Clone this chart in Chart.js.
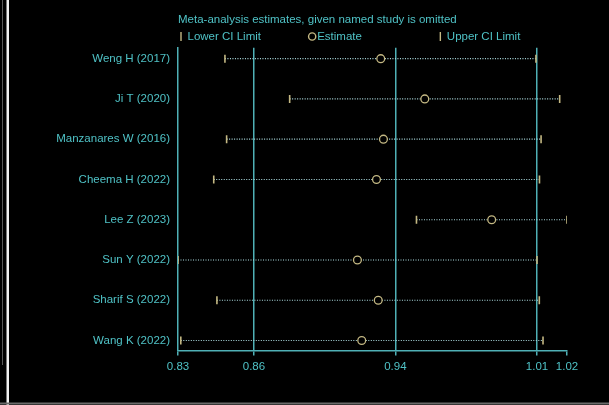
<!DOCTYPE html>
<html>
<head>
<meta charset="utf-8">
<script src="https://cdn.jsdelivr.net/npm/chart.js@4.4.1/dist/chart.umd.min.js"></script>
<style>
  html, body { margin: 0; padding: 0; background: #000; }
  #wrap { position: relative; width: 609px; height: 405px; }
</style>
</head>
<body>
<div id="wrap"><canvas id="c" width="609" height="405"></canvas></div>
<script>
// ---- data ----
const studies = ["Weng H (2017)", "Ji T (2020)", "Manzanares W (2016)", "Cheema H (2022)",
                 "Lee Z (2023)", "Sun Y (2022)", "Sharif S (2022)", "Wang K (2022)"];
const estimates = [0.9274, 0.9505, 0.9288, 0.9252, 0.9867, 0.9154, 0.9261, 0.9176];
const lowerCI   = [0.8501, 0.8814, 0.8509, 0.8448, 0.9461, 0.8281, 0.8463, 0.8294];
const upperCI   = [1.0114, 1.0249, 1.0143, 1.0134, 1.0291, 1.0120, 1.0133, 1.0154];
const overall   = [0.8640, 0.9350, 1.0120];   // overall lower CI, estimate, upper CI
const tickValues = [0.8281, 0.8640, 0.9350, 1.0120, 1.0291];
const tickLabels = ["0.83", "0.86", "0.94", "1.01", "1.02"];
const titleText = "Meta-analysis estimates, given named study is omitted";
const legendLabels = ["Lower CI Limit", "Estimate", "Upper CI Limit"];

// ---- styles ----
const TEAL = "#4fc2c6";
const GRID = "#4fb0b6";
const DOT = "#b0e0e4";
const KHAKI = "#c4b883";
const FONT = { family: "'Liberation Sans', Arial, sans-serif", size: 11.5, weight: "normal" };

const ciDatasets = studies.map((s, i) => ({
  label: s + " CI",
  data: [{ x: lowerCI[i], y: i }, { x: upperCI[i], y: i }],
  showLine: true,
  borderColor: DOT,
  borderWidth: 1.1,
  borderDash: [1, 1.5],
  pointRadius: 0,
  order: 3
}));

const capData = lowerCI.map((v, i) => ({ x: v, y: i }))
  .concat(upperCI.map((v, i) => ({ x: v, y: i })));

const frameAndLegend = {
  id: "frameAndLegend",
  beforeDraw(chart) {
    const ctx = chart.ctx;
    ctx.save();
    ctx.fillStyle = "#000";
    ctx.fillRect(0, 0, chart.width, chart.height);
    ctx.restore();
  },
  afterDraw(chart) {
    const ctx = chart.ctx;
    const a = chart.chartArea;
    ctx.save();
    // frame
    ctx.strokeStyle = "#5a5a5a";
    ctx.lineWidth = 1;
    ctx.beginPath(); ctx.moveTo(2.5, 0); ctx.lineTo(2.5, 365); ctx.stroke();
    ctx.strokeStyle = "#f2f2f2";
    ctx.lineWidth = 2.5;
    ctx.beginPath(); ctx.moveTo(7.75, 0); ctx.lineTo(7.75, chart.height); ctx.stroke();
    ctx.strokeStyle = "#6a6a6a";
    ctx.lineWidth = 2;
    ctx.beginPath(); ctx.moveTo(0, 403.5); ctx.lineTo(chart.width, 403.5); ctx.stroke();
    // legend
    const colW = (a.right - a.left) / 3;
    const y = 36.5;
    ctx.font = FONT.size + "px " + FONT.family;
    ctx.textBaseline = "middle";
    ctx.textAlign = "left";
    for (let i = 0; i < 3; i++) {
      const x0 = a.left + i * colW;
      ctx.strokeStyle = KHAKI;
      ctx.lineWidth = 1.4;
      ctx.beginPath();
      if (i === 1) {
        ctx.arc(x0 + 4.5, y, 3.6, 0, Math.PI * 2);
      } else {
        ctx.moveTo(x0 + 3, y - 4.5); ctx.lineTo(x0 + 3, y + 4.5);
      }
      ctx.stroke();
      ctx.fillStyle = TEAL;
      ctx.fillText(legendLabels[i], x0 + 9.5, y);
    }
    ctx.restore();
  }
};

new Chart(document.getElementById("c"), {
  type: "scatter",
  data: {
    datasets: ciDatasets.concat([
      {
        label: "CI limits",
        data: capData,
        pointStyle: "line",
        rotation: 90,
        pointRadius: 4,
        borderColor: KHAKI,
        borderWidth: 1.6,
        order: 2
      },
      {
        label: "Estimate",
        data: estimates.map((v, i) => ({ x: v, y: i })),
        pointStyle: "circle",
        pointRadius: 3.9,
        borderColor: KHAKI,
        backgroundColor: "#000",
        borderWidth: 1.3,
        order: 1
      }
    ])
  },
  options: {
    responsive: false,
    animation: false,
    events: [],
    layout: { padding: { left: 0, right: 42, top: 0, bottom: 0 } },
    plugins: {
      legend: { display: false },
      tooltip: { enabled: false },
      title: {
        display: true,
        text: titleText,
        color: TEAL,
        font: FONT,
        align: "start",
        fullSize: false,
        padding: { top: 13, bottom: 21 }
      }
    },
    scales: {
      x: {
        type: "logarithmic",
        min: tickValues[0],
        max: tickValues[tickValues.length - 1],
        afterBuildTicks: (scale) => {
          scale.ticks = tickValues.map(v => ({ value: v }));
        },
        afterFit: (scale) => { scale.height = 54.5; },
        ticks: {
          color: TEAL,
          font: FONT,
          padding: 4,
          autoSkip: false,
          maxRotation: 0,
          callback: (value, index) => tickLabels[index]
        },
        grid: {
          display: true,
          drawOnChartArea: true,
          drawTicks: true,
          tickLength: 5,
          lineWidth: 1.5,
          color: (c) => (c.tick && overall.includes(c.tick.value)) ? GRID : "rgba(0,0,0,0)",
          tickColor: GRID
        },
        border: { display: true, color: GRID, width: 1.5 }
      },
      y: {
        type: "linear",
        reverse: true,
        min: -0.27,
        max: 7.25,
        afterBuildTicks: (scale) => {
          scale.ticks = studies.map((s, i) => ({ value: i }));
        },
        afterFit: (scale) => { scale.width = 178; },
        ticks: {
          color: TEAL,
          font: FONT,
          padding: 8,
          autoSkip: false,
          callback: (value) => studies[value]
        },
        grid: { display: false, drawTicks: false, tickLength: 0 },
        border: { display: true, color: GRID, width: 1.5 }
      }
    }
  },
  plugins: [frameAndLegend]
});
</script>
</body>
</html>
